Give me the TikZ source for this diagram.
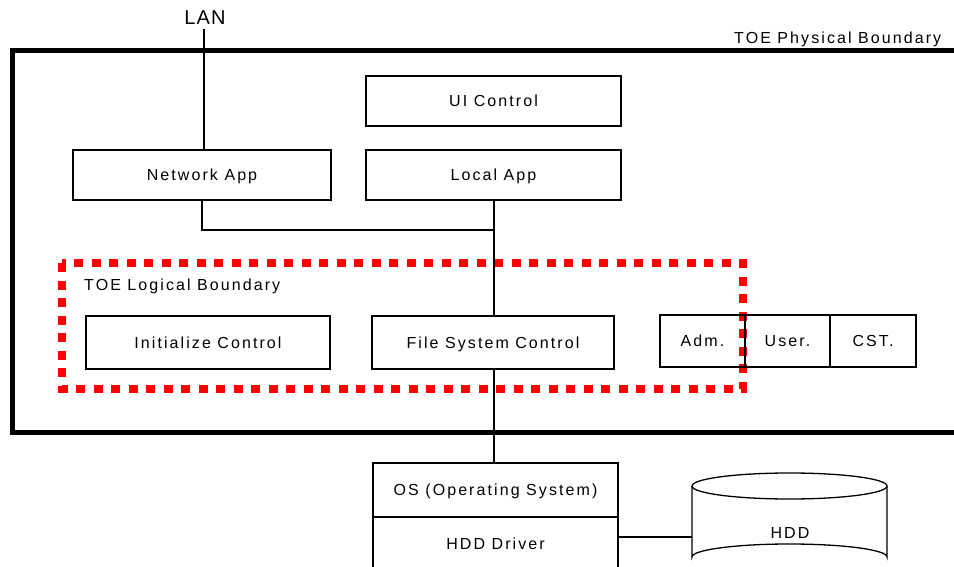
\documentclass[tikz,border=0pt]{standalone}
\usepackage{fontspec}
\setmainfont[LetterSpace=13]{Liberation Sans}
\newfontfamily\lanfont[LetterSpace=6]{Liberation Sans}
\begin{document}
\begin{tikzpicture}[x=1pt,y=-1pt,
  txt/.style={font=\fontsize{16}{19}\selectfont, inner sep=0pt, text height=11.5pt, text depth=0pt},
  box/.style={txt, draw, line width=1.3pt, anchor=center},
  conn/.style={line width=1.3pt},
  physb/.style={line width=5pt},
  logb/.style={draw=red, line width=8pt, dash pattern=on 9pt off 8.5pt}]
\useasboundingbox (0,0) rectangle (954,567);
% physical boundary
\draw[physb] (965,50.5) -- (12,50.5) -- (12,432) -- (965,432);
\node[txt, anchor=west] (phys) at (734,38) {TOE Physical Boundary};
% logical boundary
\draw[logb] (61.5,263) rectangle (743,388.5);
\node[txt, anchor=west] (logl) at (84,284.5) {TOE Logical Boundary};
% LAN
\node[inner sep=0pt, font=\lanfont\fontsize{20}{23}\selectfont, text height=14.5pt, text depth=0pt] (lan) at (205,17.5) {LAN};
% boxes
\node[box, minimum width=255pt, minimum height=50pt] (ui) at (493.5,101) {UI Control};
\node[box, minimum width=255pt, minimum height=50pt] (local) at (493.5,175) {Local App};
\node[box, minimum width=258pt, minimum height=50pt] (net) at (202,175) {Network App};
\node[box, minimum width=244pt, minimum height=53pt] (init) at (208,342.5) {Initialize Control};
\node[box, minimum width=242pt, minimum height=53pt] (fsc) at (493,342.5) {File System Control};
\node[box, minimum width=85pt, minimum height=52pt] (adm) at (702.5,341) {Adm.};
\node[box, minimum width=85pt, minimum height=52pt] (user) at (787.5,341) {User.};
\node[box, minimum width=86pt, minimum height=52pt] (cst) at (873,341) {CST.};
\node[box, minimum width=245pt, minimum height=54pt] (os) at (495.5,490) {OS (Operating System)};
\node[box, minimum width=245pt, minimum height=54pt] (drv) at (495.5,544) {HDD Driver};
% HDD cylinder
\draw[line width=1.3pt] (692,486) -- (692,557) arc[start angle=180, end angle=360, x radius=97.5, y radius=13] -- (887,486);
\draw[line width=1.3pt] (789.5,486) ellipse[x radius=97.5, y radius=13];
\node[txt] (hdd) at (790,533) {HDD};
\coordinate (hddL) at (692,537);
% connectors
\coordinate (j) at (494,230);
\path (lan.south) ++(-1,4) coordinate (lanb);
\draw[conn] (lanb) -- (lanb |- net.north);
\draw[conn] (net.south) |- (j);
\draw[conn] (local.south -| j) -- (fsc.north -| j);
\draw[conn] (fsc.south -| j) -- (os.north -| j);
\draw[conn] (drv.east |- hddL) -- (hddL);
\end{tikzpicture}
\end{document}
